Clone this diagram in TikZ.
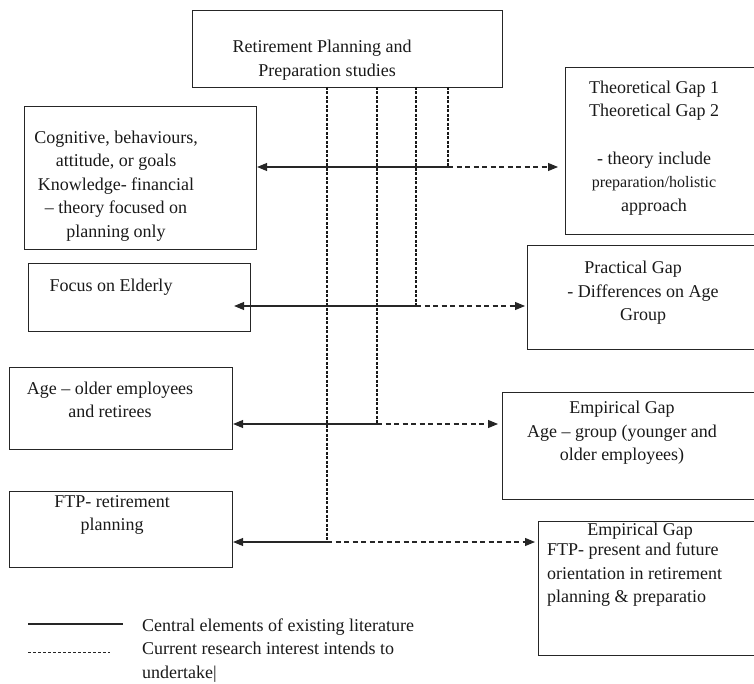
\documentclass[tikz,border=0pt]{standalone}
\usepackage{fontspec}
\setmainfont{Liberation Serif}
\usetikzlibrary{arrows.meta}
\begin{document}
\begin{tikzpicture}[x=1pt,y=-1pt,
  box/.style={draw=black!85, line width=1.1pt, inner sep=0pt, anchor=north west},
  txt/.style={font=\fontsize{18}{23.5}\selectfont, align=center, inner sep=0pt, text=black!90},
  solidarrow/.style={draw=black!85, line width=1.1pt, -{Triangle[length=10pt,width=8pt]}},
  dasharrow/.style={draw=black!85, line width=1.1pt, dash pattern=on 5pt off 3.5pt, -{Triangle[length=10pt,width=8pt]}},
  vdash/.style={draw=black!90, line width=1.2pt, dash pattern=on 3pt off 1.5pt},
  legsolid/.style={draw=black!85, line width=1.1pt},
  legdash/.style={draw=black!85, line width=1pt, dash pattern=on 3pt off 2pt}]
\useasboundingbox (0,0) rectangle (754,684);

% boxes
\node[box, minimum width=310pt, minimum height=77pt] (top) at (192,10) {};
\node[box, minimum width=232pt, minimum height=143pt] (b1) at (24,106) {};
\node[box, minimum width=222pt, minimum height=68pt] (b2) at (28,263) {};
\node[box, minimum width=223pt, minimum height=82pt] (b3) at (9,367) {};
\node[box, minimum width=223pt, minimum height=76pt] (b4) at (9,491) {};
\node[box, minimum width=195pt, minimum height=167pt] (r1) at (565,67) {};
\node[box, minimum width=233pt, minimum height=104pt] (r2) at (527,245) {};
\node[box, minimum width=258pt, minimum height=107pt] (r3) at (502,392) {};
\node[box, minimum width=222pt, minimum height=134pt] (r4) at (538,521) {};

% texts
\node[txt] (toptext) at (322,60) {Retirement Planning and\\\hspace*{10pt}Preparation studies};
\node[txt] (b1text) at (116,186) {Cognitive, behaviours,\\attitude, or goals\\Knowledge- financial\\– theory focused on\\planning only};
\node[txt] (b2text) at (111,287) {Focus on Elderly};
\node[txt] (b3text) at (110,400) {Age – older employees\\and retirees};
\node[txt] (b4text) at (112,515) {FTP- retirement\\planning};
\node[txt] (r1text) at (654,148) {Theoretical Gap 1\\Theoretical Gap 2\\[24pt]- theory include\\{\fontsize{16}{23.5}\selectfont preparation/holistic}\\approach};
\node[txt] (r2text) at (643,293) {\hspace*{-20pt}Practical Gap\\- Differences on Age\\Group};
\node[txt] (r3text) at (622,433) {Empirical Gap\\Age – group (younger and\\older employees)};
\node[txt] (r4head) at (640,531) {Empirical Gap};
\node[txt, align=left, anchor=north west] (r4text) at (547,543) {FTP- present and future\\orientation in retirement\\planning \& preparatio};

% connectors
\coordinate (t1) at (448,87); \coordinate (j1) at (448,167);
\coordinate (t2) at (416,87); \coordinate (j2) at (416,306);
\coordinate (t3) at (377,87); \coordinate (j3) at (377,424);
\coordinate (t4) at (327,87); \coordinate (j4) at (327,542);

\draw[vdash] (t1) -- (j1);
\draw[vdash] (t2) -- (j2);
\draw[vdash] (t3) -- (j3);
\draw[vdash] (t4) -- (j4);

\draw[solidarrow] (j1) -- (j1 -| b1.east);
\draw[dasharrow, shorten >=7pt] (j1) -- (j1 -| r1.west);
\draw[solidarrow, shorten >=-17pt] (j2) -- (j2 -| b2.east);
\draw[dasharrow, shorten >=2pt] (j2) -- (j2 -| r2.west);
\draw[solidarrow] (j3) -- (j3 -| b3.east);
\draw[dasharrow, shorten >=4pt] (j3) -- (j3 -| r3.west);
\draw[solidarrow] (j4) -- (j4 -| b4.east);
\draw[dasharrow, shorten >=3pt] (j4) -- (j4 -| r4.west);

% legend
\coordinate (l1a) at (28,624); \coordinate (l1b) at (123,624);
\coordinate (l2a) at (28,652); \coordinate (l2b) at (110,652);
\draw[legsolid] (l1a) -- (l1b);
\draw[legdash] (l2a) -- (l2b);
\node[txt, anchor=west] (leg1) at (142,627) {Central elements of existing literature};
\node[txt, align=left, anchor=north west] (leg2) at (142,642) {Current research interest intends to\\undertake|};
\end{tikzpicture}
\end{document}
